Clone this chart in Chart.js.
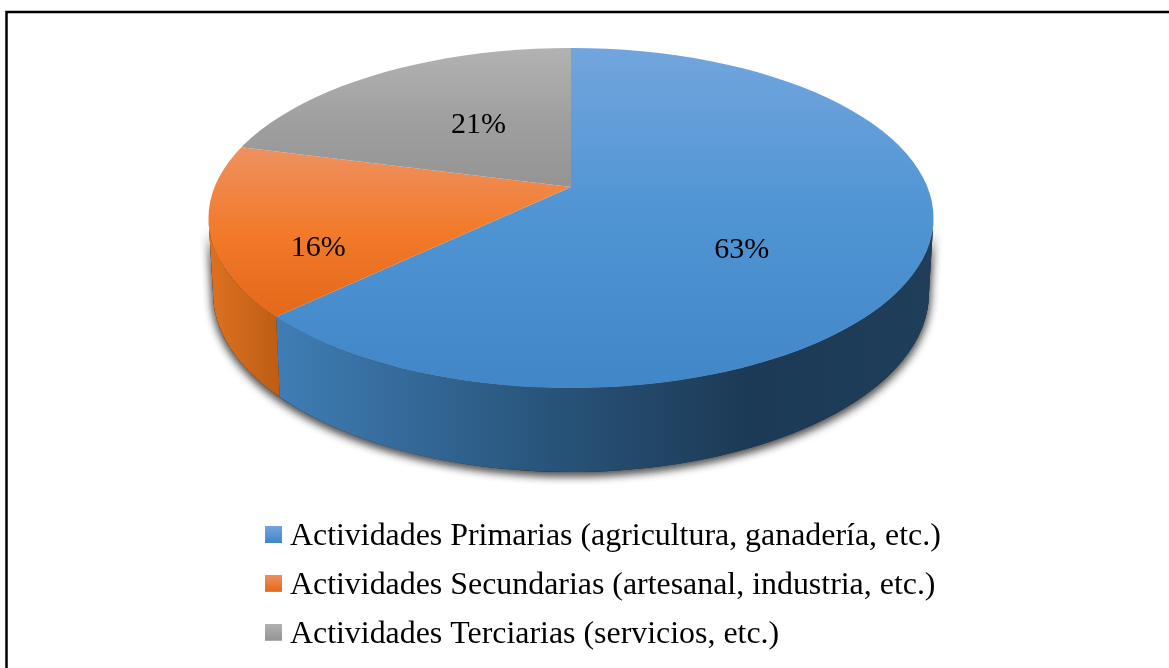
<!DOCTYPE html>
<html>
<head>
<meta charset="utf-8">
<style>
  html, body { margin: 0; padding: 0; background: #fff; }
  canvas { display: block; }
</style>
<script src="https://cdn.jsdelivr.net/npm/chart.js@4"></script>
</head>
<body>
<canvas id="SectorChart" width="1169" height="668"></canvas>
<script>
var categories = [
    "Actividades Primarias (agricultura, ganadería, etc.)",
    "Actividades Secundarias (artesanal, industria, etc.)",
    "Actividades Terciarias (servicios, etc.)"
];
var seriesValues = [63, 16, 21];

var FONT = "'Liberation Serif', 'Times New Roman', serif";
// top face ellipse, and the squash that fakes the tilt
var FACE = { rx: 362.5, ry: 170, drop: 31 };
var TILT = FACE.ry / FACE.rx;
var BOTTOM = { rx: 358, ry: 179, drop: 106 };
// vertical range and colours of each slice gradient, in page pixels
var faceStyles = [
    { y0: 48, y1: 388, stops: ["#72a5dd", "#4f94d3", "#4186c6"] },
    { y0: 148, y1: 315, stops: ["#ee9160", "#f27a2a", "#e4691a"] },
    { y0: 48, y1: 187, stops: ["#b2b2b2", "#a0a0a0", "#949494"] }
];
// where each percentage sits along its slice's middle angle
var labelSpots = [
    { r: 186, dy: 28 },
    { r: 261, dy: 31 },
    { r: 151, dy: -6 }
];

function faceGradient(ctx, index) {
    var chart = ctx.chart;
    var style = faceStyles[index];
    var apexY = chart.chartArea.top + chart.chartArea.height / 2;
    // the arcs are painted inside the squash, so undo it for the gradient
    var g = chart.ctx.createLinearGradient(0, apexY + (style.y0 - apexY) / TILT, 0, apexY + (style.y1 - apexY) / TILT);
    g.addColorStop(0, style.stops[0]);
    g.addColorStop(0.5, style.stops[1]);
    g.addColorStop(1, style.stops[2]);
    return g;
}

function rimAngle(angle) {
    // slices start at the apex which is above the middle of the ellipse
    var py = -FACE.drop / FACE.ry;
    var dx = Math.cos(angle), dy = Math.sin(angle);
    var b = py * dy;
    var s = -b + Math.sqrt(b * b - (py * py - 1));
    var t = Math.atan2(py + s * dy, s * dx);
    return t < -Math.PI / 2 ? t + Math.PI * 2 : t;
}

function wallPath(c, x, y, t0, t1) {
    c.beginPath();
    c.ellipse(x, y + FACE.drop, FACE.rx, FACE.ry, 0, t0, t1);
    c.ellipse(x, y + BOTTOM.drop, BOTTOM.rx, BOTTOM.ry, 0, t1, t0, true);
    c.closePath();
}

function wallFill(c, index) {
    var g;
    if (index == 0) {
        g = c.createLinearGradient(279, 0, 934, 0);
        g.addColorStop(0, "#3f7db4");
        g.addColorStop(0.42, "#285379");
        g.addColorStop(0.72, "#1c3a55");
        g.addColorStop(1, "#1f3e5a");
    } else {
        g = c.createLinearGradient(213, 0, 279, 0);
        g.addColorStop(0, "#dc7020");
        g.addColorStop(1, "#bd5e14");
    }
    return g;
}

var tiltPlugin = {
    id: "tilt",
    beforeDatasetDraw: function (chart, args) {
        var c = chart.ctx;
        var arcs = args.meta.data;
        var x = arcs[0].x, y = arcs[0].y;

        // shadow painted twice, one pass was too faint next to the reference
        c.save();
        c.shadowColor = "rgba(70,70,70,0.8)";
        c.shadowBlur = 10;
        c.shadowOffsetY = 3;
        c.fillStyle = "#333";
        wallPath(c, x, y, 0, Math.PI);
        c.fill();
        c.fill();
        c.restore();

        arcs.forEach(function (arc, i) {
            var t0 = Math.max(rimAngle(arc.startAngle), 0);
            var t1 = Math.min(rimAngle(arc.endAngle), Math.PI);
            if (t1 <= t0) return;
            c.fillStyle = wallFill(c, i);
            wallPath(c, x, y, t0, t1);
            c.fill();
        });

        c.save();
        c.beginPath();
        c.ellipse(x, y + FACE.drop, FACE.rx, FACE.ry, 0, 0, Math.PI * 2);
        c.clip();
        c.translate(0, y);
        c.scale(1, TILT);
        c.translate(0, -y);
    },
    afterDatasetDraw: function (chart) {
        chart.ctx.restore();
    },
    afterDatasetsDraw: function (chart) {
        var c = chart.ctx;
        var arcs = chart.getDatasetMeta(0).data;
        var total = seriesValues.reduce(function (a, b) { return a + b; }, 0);
        c.save();
        c.font = "30px " + FONT;
        c.fillStyle = "#000";
        c.textAlign = "center";
        c.textBaseline = "middle";
        arcs.forEach(function (arc, i) {
            var mid = (arc.startAngle + arc.endAngle) / 2;
            var spot = labelSpots[i];
            var text = Math.round(seriesValues[i] / total * 100) + "%";
            c.fillText(text, arc.x + Math.cos(mid) * spot.r, arc.y + Math.sin(mid) * spot.r * TILT + spot.dy);
        });
        c.restore();
    },
    afterLayout: function (chart) {
        // stacked legend hangs under the pie, left edge lined up by hand
        var legend = chart.legend;
        legend.left = 256;
        legend.top = 503.5;
        legend.bottom = 720;
    },
    afterDraw: function (chart) {
        var c = chart.ctx;
        c.save();
        c.strokeStyle = "#000";
        c.lineWidth = 2.5;
        c.beginPath();
        c.moveTo(6.5, 668);
        c.lineTo(6.5, 12);
        c.lineTo(1169, 12);
        c.stroke();
        c.restore();
    }
};

function swatch(index) {
    // taller than the square so the square rides a bit above the text middle
    var box = document.createElement("canvas");
    box.width = 17;
    box.height = 21;
    var c = box.getContext("2d");
    var g = c.createLinearGradient(0, 0, 0, 17);
    g.addColorStop(0, faceStyles[index].stops[0]);
    g.addColorStop(1, faceStyles[index].stops[2]);
    c.fillStyle = g;
    c.fillRect(0, 0, 17, 17);
    return box;
}

new Chart(document.getElementById("SectorChart").getContext("2d"), {
    type: "pie",
    plugins: [tiltPlugin],
    data: {
        labels: categories,
        datasets: [{
            data: seriesValues,
            borderWidth: 0,
            backgroundColor: function (ctx) { return faceGradient(ctx, ctx.dataIndex); }
        }]
    },
    options: {
        responsive: false,
        animation: false,
        radius: 560,
        layout: { padding: { right: 27, bottom: 294 } },
        plugins: {
            tooltip: { enabled: false },
            legend: {
                position: "chartArea",
                align: "start",
                labels: {
                    usePointStyle: true,
                    pointStyleWidth: 1,
                    padding: 17,
                    color: "#000",
                    font: { family: FONT, size: 31.9 },
                    generateLabels: function (chart) {
                        return categories.map(function (name, i) {
                            return { text: name, index: i, pointStyle: swatch(i), fontColor: "#000", lineWidth: 0 };
                        });
                    }
                }
            }
        }
    }
});
</script>
</body>
</html>
